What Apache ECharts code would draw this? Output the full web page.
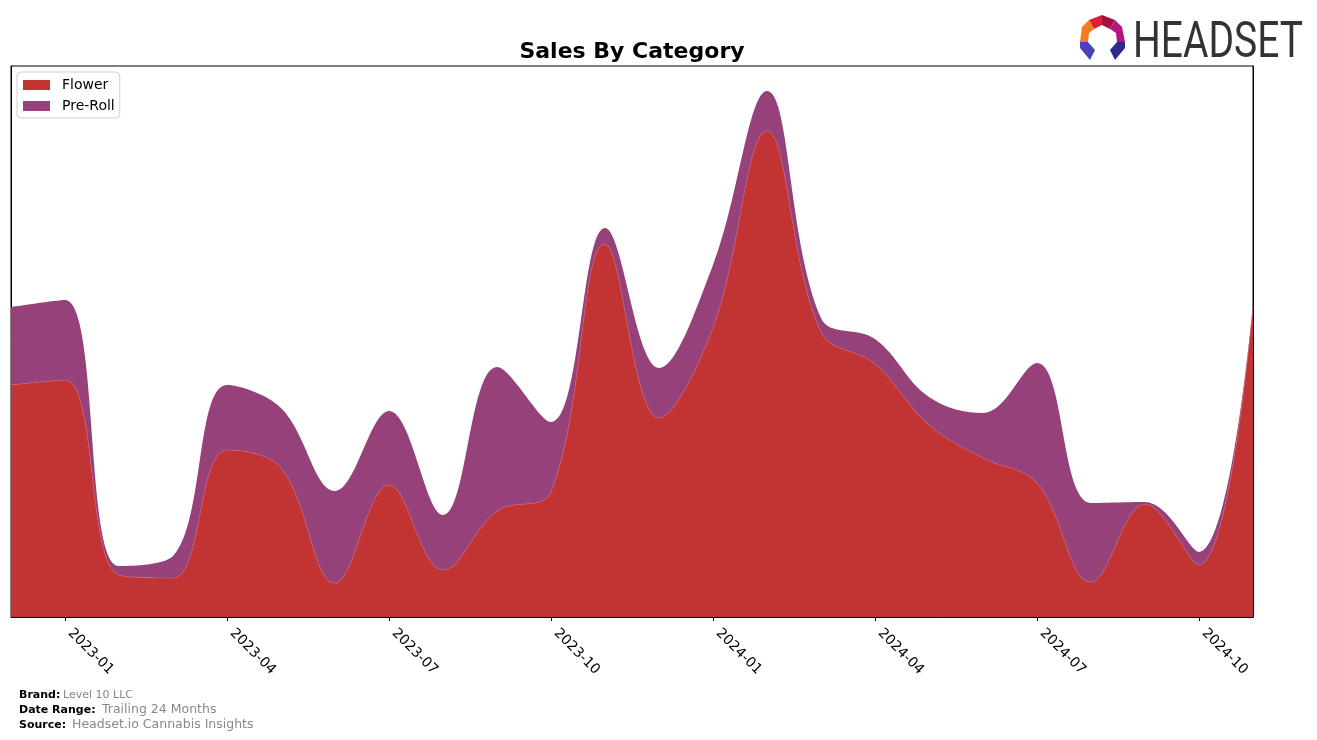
<!DOCTYPE html>
<html>
<head>
<meta charset="utf-8">
<script src="https://cdn.jsdelivr.net/npm/echarts@6/dist/echarts.min.js"></script>
<style>
html,body{margin:0;padding:0;background:#fff;}
#chart{width:1317px;height:740px;}
</style>
</head>
<body>
<div id="chart"></div>
<script>
// Monthly periods
var months = ['2022-12','2023-01','2023-02','2023-03','2023-04','2023-05','2023-06','2023-07','2023-08','2023-09','2023-10','2023-11','2023-12','2024-01','2024-02','2024-03','2024-04','2024-05','2024-06','2024-07','2024-08','2024-09','2024-10','2024-11'];
// Stacked sales values (arbitrary units)
var flower = [232,237,42,39,167,149,34,132,47,106,125,373,199,289,486,285,253,192,159,134,35,113,52,310];
var preRoll = [78,80,9,22,65,60,92,74,55,144,70,16,50,63,40,14,25,28,45,120,79,2,13,2];
var seriesNames = ['Flower','Pre-Roll'];
var colors = ['#c13433','#97417a'];
var yMax = 551;

var chart = echarts.init(document.getElementById('chart'), null, {renderer:'canvas'});
function isQuarter(i){ return i % 3 === 1; }
var font = 'DejaVu Sans, sans-serif';
var option = {
  backgroundColor:'#ffffff',
  animation:false,
  title:{text:'Sales By Category', left:627, textAlign:'center', top:36,
    textStyle:{fontFamily:font, fontWeight:'bold', fontSize:22, color:'#000'}},
  legend:{left:17, top:72, orient:'vertical', itemWidth:27, itemHeight:10, itemGap:7,
    padding:[6,5,5,6], borderColor:'#d0d0d0', borderWidth:1, borderRadius:4, backgroundColor:'#fff',
    icon:'rect', data:seriesNames,
    textStyle:{fontFamily:font, fontSize:14, color:'#000', padding:[0,0,0,7]}},
  grid:{left:11, right:64, top:66, bottom:123, show:true, borderColor:'#000', borderWidth:1, backgroundColor:'transparent'},
  xAxis:{type:'category', boundaryGap:false, data:months,
    axisLine:{show:true, lineStyle:{color:'#000', width:1}},
    axisTick:{show:true, length:4, interval:function(i){return isQuarter(i);}, lineStyle:{color:'#000'}},
    axisLabel:{interval:function(i){return isQuarter(i);}, rotate:-45, margin:9, padding:[0,0,0,7],
      fontFamily:font, fontSize:14, color:'#000'},
    splitLine:{show:false}},
  yAxis:[{type:'value', min:0, max:yMax, position:'left',
    axisLine:{show:true, lineStyle:{color:'#000'}}, axisTick:{show:false}, axisLabel:{show:false}, splitLine:{show:false}},
    {type:'value', min:0, max:yMax, position:'right',
    axisLine:{show:true, lineStyle:{color:'#000'}}, axisTick:{show:false}, axisLabel:{show:false}, splitLine:{show:false}}],
  series:[
    {name:seriesNames[0], type:'line', stack:'total', smooth:0.38, symbol:'none', data:flower,
      itemStyle:{color:colors[0]}, lineStyle:{width:0.6, color:'#b8607a'}, areaStyle:{color:colors[0], opacity:1}, z:2},
    {name:seriesNames[1], type:'line', stack:'total', smooth:0.38, symbol:'none', data:preRoll,
      itemStyle:{color:colors[1]}, lineStyle:{width:0}, areaStyle:{color:colors[1], opacity:1}, z:1}
  ],
  graphic:[
    {type:'text', left:19, top:690, style:{text:'Brand:', font:'bold 11px DejaVu Sans', fill:'#000'}},
    {type:'text', left:63, top:690, style:{text:'Level 10 LLC', font:'11px DejaVu Sans', fill:'#888'}},
    {type:'text', left:19, top:705, style:{text:'Date Range:', font:'bold 11px DejaVu Sans', fill:'#000'}},
    {type:'text', left:102, top:703, style:{text:'Trailing 24 Months', font:'12.5px DejaVu Sans', fill:'#888'}},
    {type:'text', left:19, top:720, style:{text:'Source:', font:'bold 11px DejaVu Sans', fill:'#000'}},
    {type:'text', left:72, top:718, style:{text:'Headset.io Cannabis Insights', font:'12.5px DejaVu Sans', fill:'#888'}},
    // logo icon
    {type:'group', x:1080, y:15, children:[
      {type:'polygon', shape:{points:[[22,0],[9,5],[14,14],[22,10]]}, style:{fill:'#d9213a'}},
      {type:'polygon', shape:{points:[[22,0],[35,5],[30,14],[22,10]]}, style:{fill:'#a3123f'}},
      {type:'polygon', shape:{points:[[9,5],[2,12],[0,27],[8,27],[9,18],[14,14]]}, style:{fill:'#f27a21'}},
      {type:'polygon', shape:{points:[[35,5],[42,12],[45,27],[37,27],[36,18],[30,14]]}, style:{fill:'#b3167f'}},
      {type:'polygon', shape:{points:[[0,27],[8,27],[15,35],[10,45],[0,33]]}, style:{fill:'#4444b8'}},
      {type:'polygon', shape:{points:[[45,27],[37,27],[30,35],[35,45],[45,33]]}, style:{fill:'#2e2a8c'}}
    ]},
    {type:'text', x:1133, y:19, scaleX:0.78, style:{text:'HEADSET', font:'50px Roboto', fill:'#333', verticalAlign:'top'}}
  ]
};
chart.setOption(option);
</script>
</body>
</html>
